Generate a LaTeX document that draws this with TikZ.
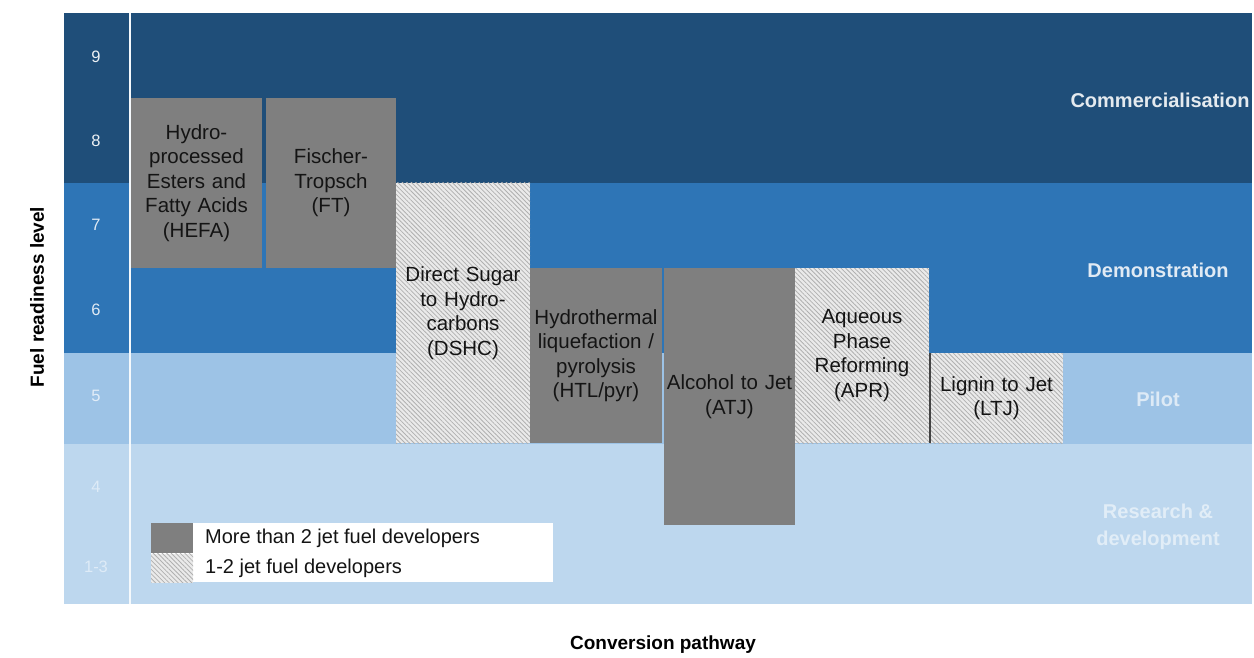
\documentclass[tikz,border=0pt]{standalone}
\usepackage{fontspec}
\setmainfont{Liberation Sans}
\usetikzlibrary{patterns.meta}
\definecolor{bandA}{HTML}{1F4E79}
\definecolor{bandB}{HTML}{2E75B6}
\definecolor{bandC}{HTML}{9DC3E6}
\definecolor{bandD}{HTML}{BDD7EE}
\definecolor{boxgrey}{HTML}{7F7F7F}
\definecolor{hatchbg}{HTML}{EAEAEA}
\definecolor{hatchline}{HTML}{B0B0B0}
\definecolor{txtdark}{HTML}{141414}
\tikzset{
  x=1pt, y=-1pt,
  band/.style={fill=#1, draw=none},
  devbox/.style={anchor=north west, inner sep=0pt, outer sep=0pt, align=center,
    font=\fontsize{20.5}{24.5}\selectfont, text=txtdark},
  solidbox/.style={devbox, fill=boxgrey},
  hatchbox/.style={devbox, fill=hatchbg,
    postaction={pattern={Lines[angle=-45,distance=3.2pt,line width=0.8pt]}, pattern color=hatchline}},
  levellabel/.style={font=\fontsize{16.5}{18}\selectfont, text=#1},
  stagelabel/.style={font=\bfseries\fontsize{20}{27}\selectfont, text=#1, align=center},
  axislabel/.style={font=\bfseries\fontsize{19}{22}\selectfont, text=black},
  legtext/.style={font=\fontsize{20}{24}\selectfont, text=txtdark, anchor=west, inner sep=0pt}
}
\begin{document}
\begin{tikzpicture}
\useasboundingbox[fill=white] (0,0) rectangle (1254,658);
% bands
\fill[band=bandA] (64,13) rectangle (1252,183);
\fill[band=bandB] (64,183) rectangle (1252,353);
\fill[band=bandC] (64,353) rectangle (1252,444);
\fill[band=bandD] (64,444) rectangle (1252,604);
\fill[white!85!bandD] (128.5,13) rectangle (130.5,604);
% level numbers
\node[levellabel=white!92!bandA] (l9) at (96,57) {9};
\node[levellabel=white!92!bandA] (l8) at (96,141) {8};
\node[levellabel=white!85!bandB] (l7) at (96,225) {7};
\node[levellabel=white!85!bandB] (l6) at (96,310) {6};
\node[levellabel=white!70!bandC] (l5) at (96,396) {5};
\node[levellabel=white!50!bandD] (l4) at (96,487) {4};
\node[levellabel=white!50!bandD] (l13) at (96,567) {1-3};
% stage labels
\node[stagelabel=white!88!bandA] (comm) at (1160,100) {Commercialisation};
\node[stagelabel=white!85!bandB] (demo) at (1158,270) {Demonstration};
\node[stagelabel=white!65!bandC] (pilot) at (1158,399) {Pilot};
\node[stagelabel=white!55!bandD] (rnd) at (1158,527) {Research \&\\development};
% pathway boxes
\node[solidbox, minimum width=131pt, minimum height=170pt, text width=131pt] (hefa) at (131,98)
  {Hydro-\\processed\\Esters and\\Fatty Acids\\(HEFA)};
\node[solidbox, minimum width=130pt, minimum height=170pt, text width=130pt] (ft) at (266,98)
  {Fischer-\\Tropsch\\(FT)};
\node[hatchbox, minimum width=134pt, minimum height=260pt, text width=134pt] (dshc) at (396,183)
  {Direct Sugar\\to Hydro-\\carbons\\(DSHC)};
\node[solidbox, minimum width=132pt, minimum height=175pt, text width=132pt] (htl) at (530,268)
  {Hydrothermal\\liquefaction /\\pyrolysis\\(HTL/pyr)};
\node[solidbox, minimum width=131pt, minimum height=257pt, text width=131pt] (atj) at (664,268)
  {Alcohol to Jet\\(ATJ)};
\node[hatchbox, minimum width=134pt, minimum height=175pt, text width=134pt] (apr) at (795,268)
  {Aqueous\\Phase\\Reforming\\(APR)};
\node[hatchbox, minimum width=133pt, minimum height=90pt, text width=133pt] (ltj) at (930,353)
  {Lignin to Jet\\(LTJ)};
\draw[txtdark!80, line width=1.2pt] (ltj.north west) -- (ltj.south west);
% legend
\node[fill=white, anchor=north west, minimum width=402pt, minimum height=59pt, inner sep=0pt] (legend) at (151,523) {};
\node[fill=boxgrey, anchor=north west, minimum width=42pt, minimum height=30pt, inner sep=0pt] (legsolid) at (legend.north west) {};
\node[fill=hatchbg, postaction={pattern={Lines[angle=-45,distance=3.2pt,line width=0.8pt]}, pattern color=hatchline},
  anchor=north west, minimum width=42pt, minimum height=29pt, inner sep=0pt] (leghatch) at (legsolid.south west) {};
\node[legtext] (legt1) at (205,538) {More than 2 jet fuel developers};
\node[legtext] (legt2) at (205,568) {1-2 jet fuel developers};
% axis labels
\node[axislabel, rotate=90] (yaxis) at (37,297) {Fuel readiness level};
\node[axislabel] (xaxis) at (663,645) {Conversion pathway};
\end{tikzpicture}
\end{document}
